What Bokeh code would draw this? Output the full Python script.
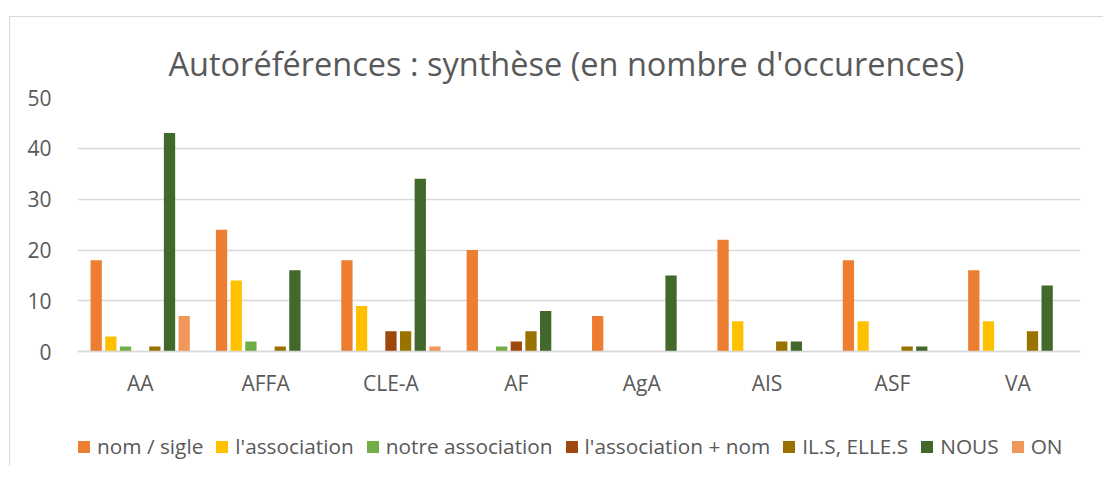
from bokeh.plotting import figure
from bokeh.models import ColumnDataSource, FactorRange, Legend, LegendItem
from bokeh.transform import dodge
from bokeh.embed import file_html
from bokeh.resources import INLINE

categories = ["AA", "AFFA", "CLE-A", "AF", "AgA", "AIS", "ASF", "VA"]
series_names = ["nom / sigle", "l'association", "notre association",
                "l'association + nom", "IL.S, ELLE.S", "NOUS", "ON"]
nom_sigle = [18, 24, 18, 20, 7, 22, 18, 16]
l_association = [3, 14, 9, 0, 0, 6, 6, 6]
notre_association = [1, 2, 0, 1, 0, 0, 0, 0]
association_nom = [0, 0, 4, 2, 0, 0, 0, 0]
ils_elles = [1, 1, 4, 4, 0, 2, 1, 4]
nous = [43, 16, 34, 8, 15, 2, 1, 13]
on = [7, 0, 1, 0, 0, 0, 0, 0]
y_ticks = [0, 10, 20, 30, 40, 50]

colors = ["#ED7D31", "#FFC000", "#70AD47", "#9E480E", "#997300", "#43682B", "#F1975A"]
series_values = [nom_sigle, l_association, notre_association, association_nom,
                 ils_elles, nous, on]
keys = ["s%d" % i for i in range(len(series_names))]

data = {"cat": categories}
for k, v in zip(keys, series_values):
    data[k] = v
source = ColumnDataSource(data)

TEXT = "#595959"
FONT = "Open Sans"

# the frame reaches below zero so that the legend can sit inside it
p = figure(x_range=FactorRange(*categories), y_range=(-22, 50),
           width=1094, height=450, output_backend="svg", toolbar_location=None,
           min_border_left=67, min_border_right=24, min_border_top=80,
           min_border_bottom=4)
p.styles = {"border-top": "1px solid #d9d9d9", "border-left": "1px solid #d9d9d9",
            "margin-top": "16px", "margin-left": "9px"}
p.outline_line_color = None

p.title.text = "Autoréférences : synthèse (en nombre d'occurences)"
p.title.align = "left"
p.title.offset = 91
p.title.text_font = FONT
p.title.text_font_size = "32.5px"
p.title.text_font_style = "normal"
p.title.text_color = TEXT
p.title.standoff = 24

step = 0.117
renderers = []
for i, k in enumerate(keys):
    r = p.vbar(x=dodge("cat", (i - 3) * step, range=p.x_range), top=k, width=0.09,
               source=source, fill_color=colors[i], line_color=None)
    renderers.append(r)

p.xgrid.grid_line_color = None
p.ygrid.ticker = y_ticks
p.ygrid.grid_line_color = "#d9d9d9"
p.ygrid.grid_line_width = 1.5
p.yaxis.ticker = y_ticks
p.yaxis.axis_line_color = None
p.yaxis.major_tick_line_color = None
p.yaxis.minor_tick_line_color = None
p.yaxis.major_label_text_font = FONT
p.yaxis.major_label_text_font_size = "21px"
p.yaxis.major_label_text_color = TEXT
p.yaxis.major_label_standoff = 20

p.xaxis.fixed_location = 0
p.xaxis.axis_line_color = "#d9d9d9"
p.xaxis.axis_line_width = 1.5
p.xaxis.major_tick_line_color = None
p.xaxis.minor_tick_line_color = None
p.xaxis.major_label_text_font = FONT
p.xaxis.major_label_text_font_size = "21px"
p.xaxis.major_label_text_color = TEXT
p.xaxis.major_label_standoff = 11

legend = Legend(items=[LegendItem(label=n, renderers=[r]) for n, r in zip(series_names, renderers)],
                orientation="horizontal", location=(-1, 3),
                label_text_font=FONT, label_text_font_size="20.8px", label_text_color=TEXT,
                glyph_width=15, glyph_height=15, label_standoff=6, spacing=11,
                padding=0, margin=0, border_line_color=None, background_fill_alpha=0)
p.add_layout(legend, "center")

open("out.html", "w").write(file_html(p, INLINE))
